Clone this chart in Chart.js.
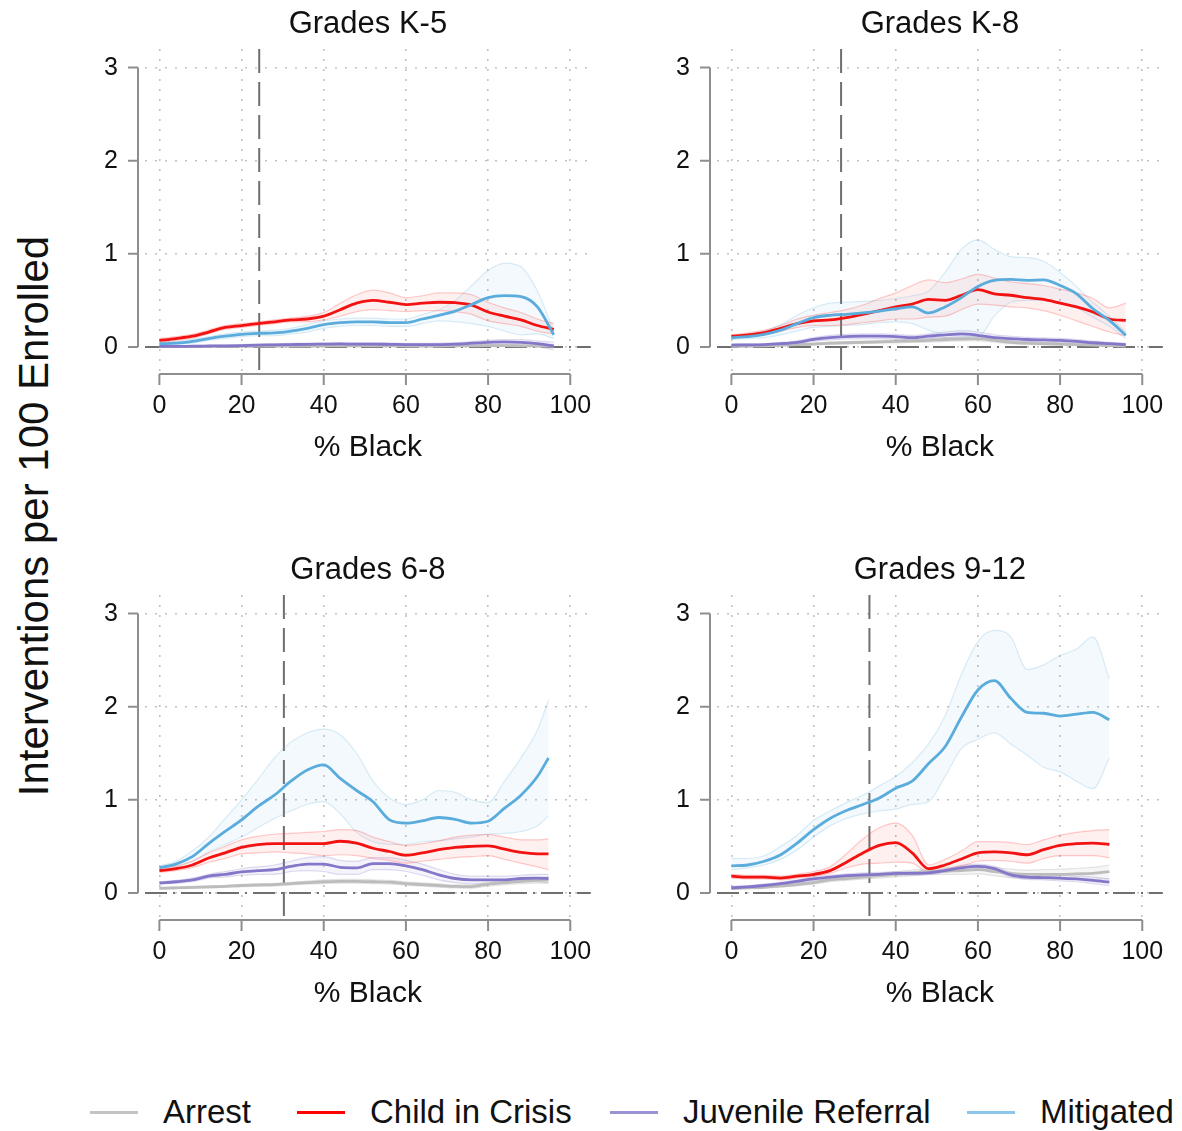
<!DOCTYPE html>
<html><head><meta charset="utf-8">
<script src="https://cdn.jsdelivr.net/npm/chart.js@4.4.0/dist/chart.umd.min.js"></script>
<style>
html,body{margin:0;padding:0;background:#fff;}
body{width:1182px;height:1131px;position:relative;overflow:hidden;font-family:"Liberation Sans",Arial,sans-serif;color:#111;}
canvas{position:absolute;}
#ytitle{position:absolute;left:34px;top:516px;transform:translate(-50%,-50%) rotate(-90deg);font-size:42px;white-space:nowrap;}
.leg{position:absolute;top:1090px;height:44px;display:flex;align-items:center;font-size:33px;white-space:nowrap;}
.leg .ln{display:inline-block;width:48px;height:3px;margin-right:25px;}
</style></head><body>
<div id="ytitle">Interventions per 100 Enrolled</div>
<canvas id="c0" width="520" height="480" style="left:90px;top:0px"></canvas>
<canvas id="c1" width="520" height="480" style="left:662px;top:0px"></canvas>
<canvas id="c2" width="520" height="480" style="left:90px;top:546px"></canvas>
<canvas id="c3" width="520" height="480" style="left:662px;top:546px"></canvas>
<div id="legend"></div>
<script>
// ---------- data ----------
const xTicks = [0, 20, 40, 60, 80, 100];
const yTicks = [0, 1, 2, 3];
const panelTitles = ['Grades K-5', 'Grades K-8', 'Grades 6-8', 'Grades 9-12'];
const meanLines = [24.3, 26.7, 30.3, 33.6];
const seriesNames = ['Arrest', 'Child in Crisis', 'Juvenile Referral', 'Mitigated'];
const xLabel = '% Black';

// Grades K-5
const k5_x = [0,4,8,12,16,20,24,28,32,36,40,44,48,52,56,60,64,68,72,76,80,84,88,92,96];
const k5_arrest   = [0.004,0.004,0.005,0.006,0.006,0.007,0.008,0.008,0.009,0.01,0.01,0.011,0.011,0.011,0.011,0.01,0.01,0.01,0.011,0.012,0.013,0.013,0.012,0.01,0.008];
const k5_arrestLo = [0,0,0,0,0.001,0.002,0.003,0.003,0.004,0.005,0.005,0.005,0.005,0.005,0.005,0.004,0.004,0.004,0.005,0.005,0.005,0.005,0.004,0.002,0];
const k5_arrestHi = [0.008,0.008,0.009,0.01,0.011,0.012,0.013,0.014,0.015,0.016,0.016,0.017,0.017,0.017,0.017,0.016,0.016,0.016,0.018,0.02,0.022,0.022,0.021,0.019,0.018];
const k5_crisis   = [0.07,0.09,0.115,0.16,0.21,0.23,0.25,0.27,0.29,0.30,0.33,0.40,0.47,0.50,0.48,0.455,0.47,0.48,0.475,0.45,0.375,0.33,0.29,0.23,0.19];
const k5_crisisLo = [0.05,0.07,0.095,0.14,0.19,0.21,0.23,0.25,0.27,0.27,0.29,0.33,0.38,0.40,0.39,0.38,0.39,0.39,0.38,0.35,0.28,0.25,0.22,0.17,0.14];
const k5_crisisHi = [0.09,0.11,0.135,0.18,0.23,0.25,0.27,0.29,0.31,0.33,0.37,0.47,0.56,0.61,0.58,0.53,0.55,0.58,0.58,0.56,0.48,0.42,0.37,0.30,0.25];
const k5_juv      = [0.005,0.005,0.008,0.01,0.012,0.015,0.02,0.022,0.025,0.028,0.03,0.032,0.03,0.03,0.028,0.025,0.025,0.025,0.03,0.04,0.05,0.055,0.05,0.035,0.01];
const k5_juvLo    = [0,0,0,0,0,0.005,0.008,0.01,0.012,0.015,0.017,0.018,0.016,0.016,0.014,0.012,0.012,0.012,0.015,0.022,0.028,0.03,0.022,0.005,-0.03];
const k5_juvHi    = [0.01,0.012,0.015,0.018,0.02,0.025,0.03,0.034,0.038,0.041,0.043,0.046,0.044,0.044,0.042,0.038,0.038,0.04,0.046,0.058,0.072,0.08,0.078,0.065,0.05];
const k5_mit      = [0.035,0.04,0.06,0.09,0.115,0.135,0.145,0.15,0.17,0.20,0.24,0.26,0.27,0.27,0.26,0.26,0.30,0.34,0.385,0.455,0.53,0.55,0.54,0.43,0.13];
const k5_mitLo    = [0.02,0.025,0.04,0.07,0.09,0.11,0.12,0.12,0.14,0.16,0.20,0.22,0.23,0.23,0.22,0.22,0.25,0.28,0.27,0.25,0.22,0.17,0.13,0.14,0.09];
const k5_mitHi    = [0.05,0.06,0.08,0.11,0.14,0.16,0.17,0.18,0.20,0.24,0.28,0.30,0.31,0.31,0.30,0.30,0.35,0.40,0.50,0.66,0.82,0.90,0.86,0.60,0.17];

// Grades K-8
const k8_x = [0,4,8,12,16,20,24,28,32,36,40,44,48,52,56,60,64,68,72,76,80,84,88,92,96];
const k8_arrest   = [0.005,0.008,0.012,0.018,0.025,0.03,0.04,0.045,0.05,0.055,0.06,0.065,0.07,0.08,0.085,0.09,0.07,0.05,0.04,0.035,0.03,0.025,0.02,0.015,0.01];
const k8_arrestLo = [0,0.002,0.005,0.01,0.015,0.02,0.028,0.032,0.036,0.04,0.044,0.048,0.052,0.06,0.064,0.066,0.05,0.034,0.026,0.022,0.018,0.014,0.01,0.006,0.002];
const k8_arrestHi = [0.01,0.014,0.019,0.026,0.035,0.04,0.052,0.058,0.064,0.07,0.076,0.082,0.088,0.1,0.106,0.114,0.09,0.066,0.054,0.048,0.042,0.036,0.03,0.024,0.018];
const k8_crisis   = [0.115,0.13,0.155,0.20,0.25,0.28,0.29,0.315,0.35,0.39,0.43,0.46,0.51,0.50,0.555,0.615,0.57,0.555,0.53,0.51,0.47,0.43,0.375,0.30,0.285];
const k8_crisisLo = [0.10,0.11,0.13,0.17,0.21,0.23,0.23,0.24,0.26,0.28,0.30,0.30,0.32,0.33,0.40,0.46,0.45,0.43,0.42,0.39,0.34,0.28,0.22,0.16,0.12];
const k8_crisisHi = [0.13,0.15,0.18,0.23,0.30,0.34,0.37,0.40,0.45,0.52,0.58,0.66,0.72,0.69,0.73,0.78,0.74,0.70,0.68,0.66,0.62,0.58,0.52,0.42,0.47];
const k8_juv      = [0.02,0.022,0.025,0.035,0.05,0.08,0.10,0.11,0.115,0.115,0.11,0.10,0.115,0.13,0.14,0.125,0.10,0.09,0.08,0.075,0.07,0.06,0.045,0.035,0.025];
const k8_juvLo    = [0.01,0.012,0.015,0.022,0.035,0.06,0.075,0.085,0.09,0.09,0.085,0.075,0.09,0.1,0.105,0.09,0.07,0.065,0.058,0.053,0.048,0.04,0.028,0.02,0.012];
const k8_juvHi    = [0.03,0.032,0.035,0.048,0.065,0.1,0.125,0.135,0.14,0.14,0.135,0.125,0.14,0.16,0.175,0.16,0.13,0.115,0.102,0.097,0.092,0.08,0.062,0.05,0.038];
const k8_mit      = [0.10,0.11,0.135,0.18,0.25,0.315,0.34,0.35,0.365,0.385,0.41,0.43,0.365,0.43,0.53,0.65,0.715,0.725,0.715,0.72,0.66,0.57,0.41,0.285,0.125];
const k8_mitLo    = [0.08,0.09,0.10,0.13,0.17,0.21,0.22,0.23,0.24,0.26,0.27,0.25,0.18,0.13,0.12,0.11,0.33,0.48,0.50,0.50,0.48,0.42,0.32,0.22,0.09];
const k8_mitHi    = [0.12,0.13,0.17,0.24,0.34,0.42,0.47,0.48,0.49,0.50,0.52,0.55,0.60,0.80,1.05,1.15,1.05,0.97,0.96,0.92,0.80,0.65,0.48,0.33,0.16];

// Grades 6-8
const g68_x = [0,4,8,12,16,20,24,28,32,36,40,44,48,52,56,60,64,68,72,76,80,84,88,92,94.7];
const g68_arrest   = [0.05,0.055,0.06,0.065,0.07,0.08,0.085,0.09,0.10,0.11,0.12,0.125,0.125,0.12,0.115,0.10,0.09,0.08,0.07,0.068,0.095,0.11,0.125,0.135,0.14];
const g68_arrestLo = [0.04,0.045,0.05,0.055,0.06,0.068,0.072,0.076,0.085,0.093,0.1,0.105,0.105,0.1,0.095,0.082,0.073,0.063,0.054,0.05,0.075,0.088,0.1,0.105,0.105];
const g68_arrestHi = [0.06,0.065,0.07,0.075,0.08,0.092,0.098,0.104,0.115,0.127,0.14,0.145,0.145,0.14,0.135,0.118,0.107,0.097,0.086,0.086,0.115,0.132,0.15,0.165,0.175];
const g68_crisis   = [0.24,0.26,0.30,0.375,0.43,0.49,0.52,0.53,0.53,0.53,0.53,0.555,0.535,0.48,0.445,0.405,0.43,0.465,0.49,0.50,0.505,0.47,0.435,0.42,0.42];
const g68_crisisLo = [0.22,0.24,0.27,0.33,0.37,0.42,0.43,0.44,0.43,0.42,0.40,0.41,0.40,0.37,0.35,0.32,0.34,0.36,0.38,0.39,0.40,0.36,0.32,0.28,0.25];
const g68_crisisHi = [0.26,0.29,0.34,0.43,0.50,0.57,0.61,0.63,0.64,0.65,0.66,0.68,0.67,0.60,0.55,0.51,0.53,0.56,0.60,0.62,0.63,0.60,0.57,0.57,0.58];
const g68_juv      = [0.107,0.12,0.14,0.18,0.20,0.225,0.24,0.25,0.285,0.31,0.31,0.275,0.27,0.315,0.315,0.29,0.25,0.195,0.155,0.14,0.14,0.14,0.155,0.16,0.155];
const g68_juvLo    = [0.095,0.105,0.12,0.16,0.17,0.19,0.20,0.20,0.23,0.24,0.23,0.20,0.20,0.25,0.25,0.23,0.19,0.14,0.11,0.10,0.10,0.10,0.12,0.12,0.11];
const g68_juvHi    = [0.12,0.135,0.16,0.20,0.23,0.26,0.28,0.30,0.34,0.38,0.39,0.35,0.34,0.38,0.38,0.35,0.31,0.25,0.20,0.18,0.18,0.18,0.19,0.20,0.20];
const g68_mit      = [0.27,0.31,0.39,0.53,0.66,0.785,0.93,1.05,1.20,1.32,1.375,1.23,1.10,0.98,0.785,0.75,0.775,0.81,0.79,0.75,0.77,0.91,1.05,1.25,1.45];
const g68_mitLo    = [0.25,0.28,0.34,0.44,0.52,0.60,0.70,0.80,0.88,0.95,0.98,0.85,0.65,0.55,0.52,0.52,0.55,0.56,0.58,0.60,0.63,0.64,0.66,0.72,0.83];
const g68_mitHi    = [0.29,0.34,0.45,0.60,0.80,1.00,1.22,1.45,1.62,1.72,1.76,1.70,1.50,1.20,1.02,0.95,1.00,1.10,1.08,1.00,0.97,1.20,1.45,1.75,2.07];

// Grades 9-12
const g912_x = [0,4,8,12,16,20,24,28,32,36,40,44,48,52,56,60,64,68,72,76,80,84,88,92];
const g912_arrest   = [0.05,0.055,0.06,0.075,0.09,0.11,0.14,0.155,0.17,0.185,0.20,0.215,0.23,0.235,0.24,0.25,0.23,0.21,0.20,0.20,0.20,0.205,0.21,0.23];
const g912_arrestLo = [0.04,0.045,0.05,0.063,0.077,0.095,0.122,0.135,0.148,0.16,0.172,0.185,0.198,0.2,0.2,0.205,0.185,0.165,0.155,0.15,0.145,0.145,0.145,0.155];
const g912_arrestHi = [0.06,0.065,0.07,0.087,0.103,0.125,0.158,0.175,0.192,0.21,0.228,0.245,0.262,0.27,0.28,0.295,0.275,0.255,0.245,0.25,0.255,0.265,0.275,0.3];
const g912_crisis   = [0.18,0.17,0.17,0.16,0.18,0.20,0.24,0.33,0.43,0.51,0.54,0.43,0.26,0.30,0.365,0.43,0.44,0.43,0.41,0.465,0.51,0.53,0.535,0.52];
const g912_crisisLo = [0.16,0.15,0.15,0.14,0.16,0.18,0.21,0.27,0.31,0.32,0.33,0.32,0.22,0.25,0.29,0.34,0.35,0.34,0.32,0.37,0.40,0.40,0.40,0.38];
const g912_crisisHi = [0.20,0.19,0.19,0.18,0.20,0.23,0.28,0.42,0.58,0.70,0.75,0.62,0.30,0.36,0.45,0.55,0.55,0.54,0.52,0.57,0.62,0.65,0.67,0.68];
const g912_juv      = [0.055,0.065,0.08,0.10,0.125,0.15,0.17,0.185,0.195,0.20,0.21,0.21,0.215,0.24,0.27,0.285,0.26,0.195,0.17,0.165,0.16,0.15,0.135,0.115];
const g912_juvLo    = [0.04,0.05,0.065,0.085,0.11,0.13,0.15,0.165,0.175,0.18,0.19,0.19,0.195,0.22,0.245,0.26,0.235,0.17,0.145,0.14,0.13,0.12,0.1,0.08];
const g912_juvHi    = [0.07,0.08,0.095,0.115,0.14,0.17,0.19,0.205,0.215,0.22,0.23,0.23,0.235,0.26,0.295,0.31,0.285,0.22,0.195,0.19,0.19,0.18,0.17,0.15];
const g912_mit      = [0.29,0.30,0.34,0.41,0.535,0.68,0.80,0.885,0.95,1.02,1.125,1.20,1.39,1.57,1.89,2.18,2.28,2.09,1.94,1.93,1.90,1.92,1.94,1.86];
const g912_mitLo    = [0.25,0.27,0.30,0.36,0.46,0.60,0.72,0.80,0.85,0.88,0.90,0.95,0.98,1.25,1.55,1.65,1.72,1.60,1.48,1.35,1.30,1.20,1.12,1.45];
const g912_mitHi    = [0.37,0.37,0.40,0.50,0.62,0.78,0.88,0.97,1.05,1.15,1.25,1.40,1.60,1.90,2.35,2.70,2.82,2.75,2.40,2.45,2.55,2.62,2.75,2.30];

// ---------- styles ----------
const FONT = '"Liberation Sans", Arial, sans-serif';
const STYLE = [
  {color:'#bcbcbc', band:'rgba(170,170,170,0.10)', edge:'rgba(170,170,170,0.30)', legend:'#c4c4c4'},
  {color:'#f21212', band:'rgba(255,40,40,0.07)',  edge:'rgba(255,70,70,0.28)',  legend:'#ff0000'},
  {color:'#8476c8', band:'rgba(133,119,200,0.08)',edge:'rgba(133,119,200,0.25)',legend:'#9a92d6'},
  {color:'#5aacdc', band:'rgba(90,172,220,0.07)', edge:'rgba(90,172,220,0.22)', legend:'#8cc6ea'}
];

const panels = [
  {x:k5_x,  s:[[k5_arrest,k5_arrestLo,k5_arrestHi],[k5_crisis,k5_crisisLo,k5_crisisHi],[k5_juv,k5_juvLo,k5_juvHi],[k5_mit,k5_mitLo,k5_mitHi]]},
  {x:k8_x,  s:[[k8_arrest,k8_arrestLo,k8_arrestHi],[k8_crisis,k8_crisisLo,k8_crisisHi],[k8_juv,k8_juvLo,k8_juvHi],[k8_mit,k8_mitLo,k8_mitHi]]},
  {x:g68_x, s:[[g68_arrest,g68_arrestLo,g68_arrestHi],[g68_crisis,g68_crisisLo,g68_crisisHi],[g68_juv,g68_juvLo,g68_juvHi],[g68_mit,g68_mitLo,g68_mitHi]]},
  {x:g912_x,s:[[g912_arrest,g912_arrestLo,g912_arrestHi],[g912_crisis,g912_crisisLo,g912_crisisHi],[g912_juv,g912_juvLo,g912_juvHi],[g912_mit,g912_mitLo,g912_mitHi]]}
];

const stataPlugin = {
  id: 'stataAxes',
  beforeDatasetsDraw(chart, args, opts) {
    const {ctx, chartArea: ca, scales: {x, y}} = chart;
    ctx.save();
    ctx.strokeStyle = '#6f6f6f';
    ctx.lineWidth = 2;
    const y0 = y.getPixelForValue(0);
    ctx.setLineDash([22, 6, 2, 6]);
    ctx.beginPath(); ctx.moveTo(ca.left, y0); ctx.lineTo(ca.right, y0); ctx.stroke();
    const xm = x.getPixelForValue(opts.mean);
    ctx.setLineDash([24, 9]);
    ctx.beginPath(); ctx.moveTo(xm, ca.top); ctx.lineTo(xm, ca.bottom + 1); ctx.stroke();
    ctx.restore();
  },
  afterDraw(chart) {
    const {ctx, chartArea: ca, scales: {x, y}} = chart;
    ctx.save();
    ctx.strokeStyle = '#8e8e8e';
    ctx.lineWidth = 2;
    ctx.setLineDash([]);
    const ax = ca.left - 7;
    ctx.beginPath();
    ctx.moveTo(ax, y.getPixelForValue(yTicks[yTicks.length - 1]));
    ctx.lineTo(ax, y.getPixelForValue(yTicks[0]));
    yTicks.forEach(v => { const p = y.getPixelForValue(v); ctx.moveTo(ax - 10, p); ctx.lineTo(ax, p); });
    const ay = ca.bottom + 1;
    ctx.moveTo(x.getPixelForValue(xTicks[0]), ay);
    ctx.lineTo(x.getPixelForValue(xTicks[xTicks.length - 1]), ay);
    xTicks.forEach(v => { const p = x.getPixelForValue(v); ctx.moveTo(p, ay); ctx.lineTo(p, ay + 11); });
    ctx.stroke();
    ctx.restore();
  }
};

function pts(xs, ys) { return xs.map((v, i) => ({x: v, y: ys[i]})); }

panels.forEach((p, pi) => {
  const datasets = [];
  p.s.forEach((trip, si) => {
    const st = STYLE[si];
    datasets.push({label: seriesNames[si] + ' lo', data: pts(p.x, trip[1]), borderColor: st.edge, borderWidth: 1.2, fill: false, pointRadius: 0, cubicInterpolationMode: 'monotone', order: 10});
    datasets.push({label: seriesNames[si] + ' hi', data: pts(p.x, trip[2]), borderColor: st.edge, borderWidth: 1.2, fill: '-1', backgroundColor: st.band, pointRadius: 0, cubicInterpolationMode: 'monotone', order: 10});
  });
  p.s.forEach((trip, si) => {
    const st = STYLE[si];
    datasets.push({label: seriesNames[si], data: pts(p.x, trip[0]), borderColor: st.color, borderWidth: 2.8, fill: false, pointRadius: 0, cubicInterpolationMode: 'monotone', order: 4 - si});
  });
  new Chart(document.getElementById('c' + pi), {
    type: 'line',
    data: {datasets},
    options: {
      responsive: false, animation: false, devicePixelRatio: 1,
      layout: {padding: {left: 0, right: 18, top: 0, bottom: 7}},
      plugins: {
        legend: {display: false}, tooltip: {enabled: false},
        title: {display: true, text: panelTitles[pi], fullSize: false, color: '#111',
                font: {family: FONT, size: 31, weight: 'normal'}, padding: {top: 6, bottom: 5.8}},
        stataAxes: {mean: meanLines[pi]}
      },
      scales: {
        x: {
          type: 'linear', min: -3.5, max: 105,
          afterBuildTicks: s => { s.ticks = xTicks.map(v => ({value: v})); },
          afterFit: s => { s.height = 100; },
          grid: {color: '#c2c2c2', lineWidth: 1.6, drawTicks: false},
          border: {display: false, dash: [2, 8]},
          ticks: {padding: 18, color: '#111', font: {family: FONT, size: 25}, maxRotation: 0, autoSkip: false, callback: v => String(v)},
          title: {display: true, text: xLabel, color: '#111', font: {family: FONT, size: 30}, padding: {top: 0, bottom: 7}}
        },
        y: {
          type: 'linear', min: -0.28, max: 3.2,
          afterBuildTicks: s => { s.ticks = yTicks.map(v => ({value: v})); },
          afterFit: s => { s.width = 55; },
          grid: {color: '#c2c2c2', lineWidth: 1.6, drawTicks: false},
          border: {display: false, dash: [2, 8]},
          ticks: {padding: 27, color: '#111', font: {family: FONT, size: 25}, callback: v => String(v)}
        }
      }
    },
    plugins: [stataPlugin]
  });
});

// legend (HTML)
const legendLeft = [90, 297, 610, 967];
const lg = document.getElementById('legend');
seriesNames.forEach((n, i) => {
  const d = document.createElement('div');
  d.className = 'leg';
  d.style.left = legendLeft[i] + 'px';
  const ln = document.createElement('span');
  ln.className = 'ln';
  ln.style.background = STYLE[i].legend;
  d.appendChild(ln);
  d.appendChild(document.createTextNode(n));
  lg.appendChild(d);
});
</script>
</body></html>
